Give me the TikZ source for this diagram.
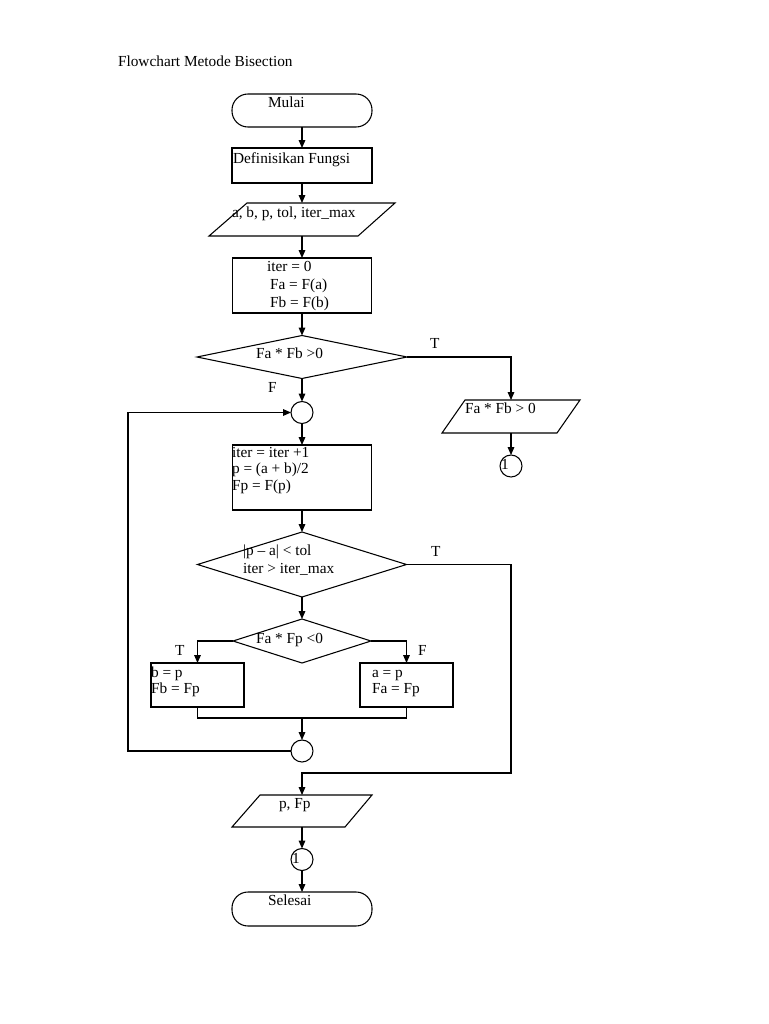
\documentclass[tikz,border=0pt]{standalone}
\usepackage{fontspec}
\setmainfont{Liberation Serif}
\usetikzlibrary{shapes.geometric,arrows.meta,calc}
\begin{document}
\begin{tikzpicture}[x=0.75pt,y=-0.75pt,line width=0.8pt,
  every node/.style={inner sep=0pt,outer sep=0pt},
  box/.style 2 args={draw,rectangle,minimum width=0.75*#1pt,minimum height=0.75*#2pt},
  term/.style 2 args={draw,rectangle,rounded corners=0.75*16pt,minimum width=0.75*#1pt,minimum height=0.75*#2pt},
  dia/.style 2 args={draw,diamond,minimum width=0.75*#1pt,minimum height=0.75*#2pt},
  frame/.style 2 args={rectangle,minimum width=0.75*#1pt,minimum height=0.75*#2pt},
  conn/.style={draw,circle,minimum size=0.75*22pt},
  txt/.style={anchor=base west,font=\fontsize{11.5}{13}\selectfont},
  arr/.style={-{Triangle[length=6pt,width=5pt]}}]
\useasboundingbox (0,0) rectangle (768,1024);
\fill[white] (0,0) rectangle (768,1024);

% title
\node[txt] (title) at (118,67) {Flowchart Metode Bisection};

% shapes
\node[term={140}{33}] (T1) at (302,110.5) {};
\node[box={140}{35}] (R1) at (302,165.5) {};
\node[frame={186}{33}] (P1) at (302,219.5) {};
\draw (P1.north east) -- ($(P1.south east)+(-37,0)$) -- (P1.south west) -- ($(P1.north west)+(38,0)$) -- cycle;
\node[box={139}{55}] (R2) at (302,285.5) {};
\node[dia={210}{43}] (D1) at (302,357) {};
\node[frame={138}{33}] (P2) at (511,416.5) {};
\draw (P2.north east) -- ($(P2.south east)+(-23,0)$) -- (P2.south west) -- ($(P2.north west)+(23,0)$) -- cycle;
\node[conn] (C2) at (511,466) {};
\node[conn] (C1) at (302,412.5) {};
\node[box={139}{65}] (R3) at (302,477.5) {};
\node[dia={209}{65}] (D2) at (302,564.5) {};
\node[dia={138}{44}] (D3) at (302,641) {};
\node[box={93}{44}] (R4) at (197.5,685) {};
\node[box={93}{44}] (R5) at (406.5,685) {};
\node[conn] (C3) at (302,751) {};
\node[frame={140}{32}] (P3) at (302,811) {};
\draw (P3.north east) -- ($(P3.south east)+(-27,0)$) -- (P3.south west) -- ($(P3.north west)+(28,0)$) -- cycle;
\node[conn] (C4) at (302,859.5) {};
\node[term={140}{34}] (T2) at (302,909) {};

\coordinate (k1) at (511,773);
\coordinate (m) at (302,718);
\coordinate (lp) at (128,412.5);

% connectors
\draw[arr] (T1) -- (R1);
\draw[arr] (R1) -- (P1);
\draw[arr] (P1) -- (R2);
\draw[arr] (R2) -- (D1);
\draw[arr] (D1.east) -| (P2.north);
\draw[arr] (P2) -- (C2);
\draw[arr] (D1) -- (C1);
\draw[arr] (C1) -- (R3);
\draw[arr] (R3) -- (D2);
\draw[arr] (D2.east) -| (k1) -| (P3.north);
\draw[arr] (D2) -- (D3);
\draw[arr] (D3.west) -| (R4.north);
\draw[arr] (D3.east) -| (R5.north);
\draw (R4.south) |- (m) -| (R5.south);
\draw[arr] (m) -- (C3.north);
\draw[arr] (C3.west) -| (lp) -- (C1.west);
\draw[arr] (P3) -- (C4);
\draw[arr] (C4) -- (T2);

% texts
\node[txt] (tMulai) at (268,108) {Mulai};
\node[txt] (tDef) at (233,163) {Definisikan Fungsi};
\node[txt] (tIn) at (232,217) {a, b, p, tol, iter\_max};
\node[txt] (tI0) at (267,271) {iter = 0};
\node[txt] (tFa) at (270,289) {Fa = F(a)};
\node[txt] (tFb) at (270,307) {Fb = F(b)};
\node[txt] (tD1) at (256,358) {Fa * Fb >0};
\node[txt] (lT1) at (430,348) {T};
\node[txt] (lF1) at (268,392) {F};
\node[txt] (tP2) at (465,413) {Fa * Fb > 0};
\node[txt] (t1a) at (501,469) {1};
\node[txt] (tIt) at (232,457) {iter = iter +1};
\node[txt] (tP) at (232,473) {p = (a + b)/2};
\node[txt] (tFp) at (232,490) {Fp = F(p)};
\node[txt] (tD2a) at (243,555) {|p – a| < tol};
\node[txt] (tD2b) at (243,573) {iter > iter\_max};
\node[txt] (lT2) at (431,556) {T};
\node[txt] (tD3) at (256,643) {Fa * Fp <0};
\node[txt] (lT3) at (175,655) {T};
\node[txt] (lF3) at (418,655) {F};
\node[txt] (tb) at (151,677) {b = p};
\node[txt] (tFbp) at (151,693) {Fb = Fp};
\node[txt] (ta) at (372,677) {a = p};
\node[txt] (tFap) at (372,693) {Fa = Fp};
\node[txt] (tOut) at (279,808) {p, Fp};
\node[txt] (t1b) at (292,863) {1};
\node[txt] (tSel) at (268,905) {Selesai};
\end{tikzpicture}
\end{document}
